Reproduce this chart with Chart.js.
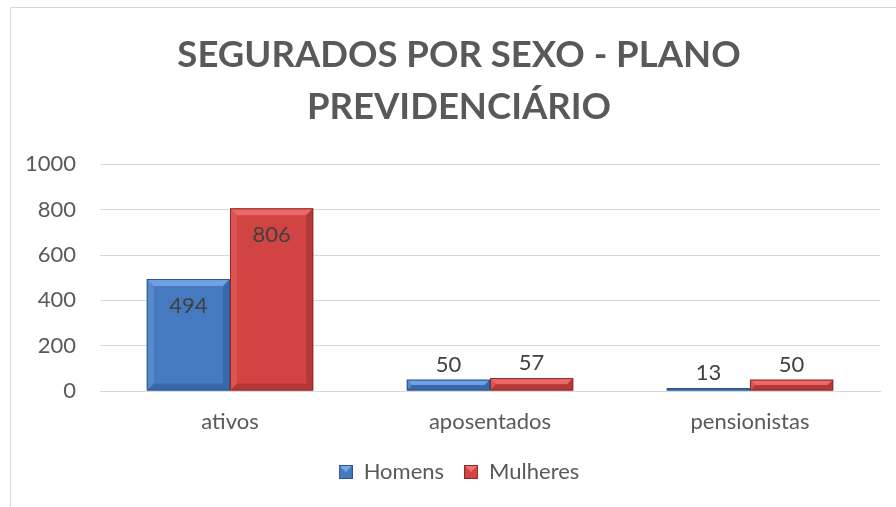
<!DOCTYPE html>
<html>
<head>
<meta charset="utf-8">
<script src="https://cdn.jsdelivr.net/npm/chart.js@4"></script>
<style>
  html, body { margin: 0; padding: 0; background: #fff; overflow: hidden; }
  #box {
    position: absolute; left: 10px; top: 7px;
    width: 900px; height: 520px;
    border: 1px solid #d9d9d9;
  }
  #wrap { position: absolute; left: 0; top: 0; width: 896px; height: 499px; }
</style>
</head>
<body>
<div id="box"><div id="wrap"><canvas id="chart"></canvas></div></div>
<script>
// chart data
const categories = ['ativos', 'aposentados', 'pensionistas'];
const homens = [494, 50, 13];
const mulheres = [806, 57, 50];
const seriesNames = ['Homens', 'Mulheres'];
const yTicks = [0, 200, 400, 600, 800, 1000];

const FONT = 'Lato, "Open Sans", sans-serif';
const TEXT = '#595959';

// bar colours: fill, light edge, dark edge
const palette = [
  { fill: '#4579c0', light: '#79a8e8', dark: '#2a5490' },
  { fill: '#d24443', light: '#f07070', dark: '#8e2a28' }
];

// Draws a little bevel on each bar, the way the spreadsheet did
const bevelPlugin = {
  id: 'bevel',
  afterDatasetsDraw(chart) {
    const ctx = chart.ctx;
    chart.data.datasets.forEach((ds, i) => {
      const meta = chart.getDatasetMeta(i);
      const col = palette[i];
      meta.data.forEach((bar) => {
        const l = bar.x - bar.width / 2, r = bar.x + bar.width / 2;
        const t = bar.y, btm = bar.base;
        const b = Math.min(7, (btm - t) / 2);
        ctx.save();
        // top edge
        ctx.fillStyle = col.light;
        ctx.globalAlpha = 0.85;
        ctx.beginPath();
        ctx.moveTo(l, t); ctx.lineTo(r, t); ctx.lineTo(r - b, t + b); ctx.lineTo(l + b, t + b);
        ctx.closePath(); ctx.fill();
        // left edge
        ctx.globalAlpha = 0.35;
        ctx.beginPath();
        ctx.moveTo(l, t); ctx.lineTo(l + b, t + b); ctx.lineTo(l + b, btm - b); ctx.lineTo(l, btm);
        ctx.closePath(); ctx.fill();
        // bottom and right edge
        ctx.fillStyle = col.dark;
        ctx.globalAlpha = 0.45;
        ctx.beginPath();
        ctx.moveTo(l, btm); ctx.lineTo(r, btm); ctx.lineTo(r - b, btm - b); ctx.lineTo(l + b, btm - b);
        ctx.closePath(); ctx.fill();
        ctx.beginPath();
        ctx.moveTo(r, t); ctx.lineTo(r, btm); ctx.lineTo(r - b, btm - b); ctx.lineTo(r - b, t + b);
        ctx.closePath(); ctx.fill();
        ctx.globalAlpha = 1;
        ctx.strokeStyle = col.dark;
        ctx.lineWidth = 1;
        ctx.strokeRect(l + 0.5, t + 0.5, r - l - 1, btm - t - 1);
        ctx.restore();
      });
    });
  }
};

// Value labels: inside the top of tall bars, above short ones
const valueLabels = {
  id: 'valueLabels',
  afterDatasetsDraw(chart) {
    const ctx = chart.ctx;
    ctx.save();
    ctx.font = '22px ' + FONT;
    ctx.fillStyle = '#404040';
    ctx.textAlign = 'center';
    ctx.textBaseline = 'middle';
    chart.data.datasets.forEach((ds, i) => {
      chart.getDatasetMeta(i).data.forEach((bar, j) => {
        const h = bar.base - bar.y;
        const y = h > 40 ? bar.y + 27 : bar.y - 15;
        ctx.fillText(ds.data[j], bar.x, y);
      });
    });
    ctx.restore();
  }
};

// legend squares with the same bevel look
function legendSwatch(col) {
  const c = document.createElement('canvas');
  c.width = 14; c.height = 14;
  const g = c.getContext('2d');
  g.fillStyle = col.fill; g.fillRect(0, 0, 14, 14);
  g.fillStyle = col.light;
  g.beginPath(); g.moveTo(0, 0); g.lineTo(14, 0); g.lineTo(7, 7); g.closePath(); g.fill();
  g.strokeStyle = col.dark; g.lineWidth = 1; g.strokeRect(0.5, 0.5, 13, 13);
  return c;
}
const swatches = palette.map(legendSwatch);

const ctx = document.getElementById('chart').getContext('2d');
new Chart(ctx, {
  type: 'bar',
  data: {
    labels: categories,
    datasets: [
      { label: seriesNames[0], data: homens, backgroundColor: palette[0].fill },
      { label: seriesNames[1], data: mulheres, backgroundColor: palette[1].fill }
    ]
  },
  options: {
    responsive: true,
    maintainAspectRatio: false,
    animation: false,
    datasets: { bar: { categoryPercentage: 0.64, barPercentage: 1.0 } },
    layout: { padding: { left: 0, right: 0, top: 0, bottom: 14 } },
    scales: {
      x: {
        grid: { display: false },
        border: { color: '#d9d9d9' },
        afterFit(axis) { axis.height = 50; },
        ticks: { color: TEXT, font: { family: FONT, size: 22 }, padding: 10 }
      },
      y: {
        min: 0, max: 1000,
        afterBuildTicks(axis) { axis.ticks = yTicks.map(v => ({ value: v })); },
        afterFit(axis) { axis.width = 89; },
        grid: { color: '#d9d9d9', drawTicks: false },
        border: { display: false },
        ticks: {
          color: TEXT, font: { family: FONT, size: 22 }, padding: 24,
          callback: (v) => String(v)
        }
      },
      // empty right-hand margin, keeps the title centred on the whole box
      yRight: {
        position: 'right',
        min: 0, max: 1000,
        grid: { display: false },
        border: { display: false },
        ticks: { display: false },
        afterFit(axis) { axis.width = 27; }
      }
    },
    plugins: {
      title: {
        display: true,
        text: ['SEGURADOS POR SEXO - PLANO', 'PREVIDENCIÁRIO'],
        color: TEXT,
        font: { family: FONT, size: 36.5, weight: 'bold', lineHeight: 1.43 },
        padding: { top: 21, bottom: 31 }
      },
      legend: {
        position: 'bottom',
        labels: {
          color: TEXT,
          font: { family: FONT, size: 22 },
          usePointStyle: true,
          boxWidth: 14,
          boxHeight: 14,
          padding: 20,
          generateLabels(chart) {
            return chart.data.datasets.map((ds, i) => ({
              text: ds.label,
              pointStyle: swatches[i],
              fillStyle: palette[i].fill,
              strokeStyle: palette[i].dark,
              fontColor: TEXT,
              datasetIndex: i,
              hidden: false
            }));
          }
        }
      },
      tooltip: { enabled: false }
    }
  },
  plugins: [bevelPlugin, valueLabels]
});
</script>
</body>
</html>
